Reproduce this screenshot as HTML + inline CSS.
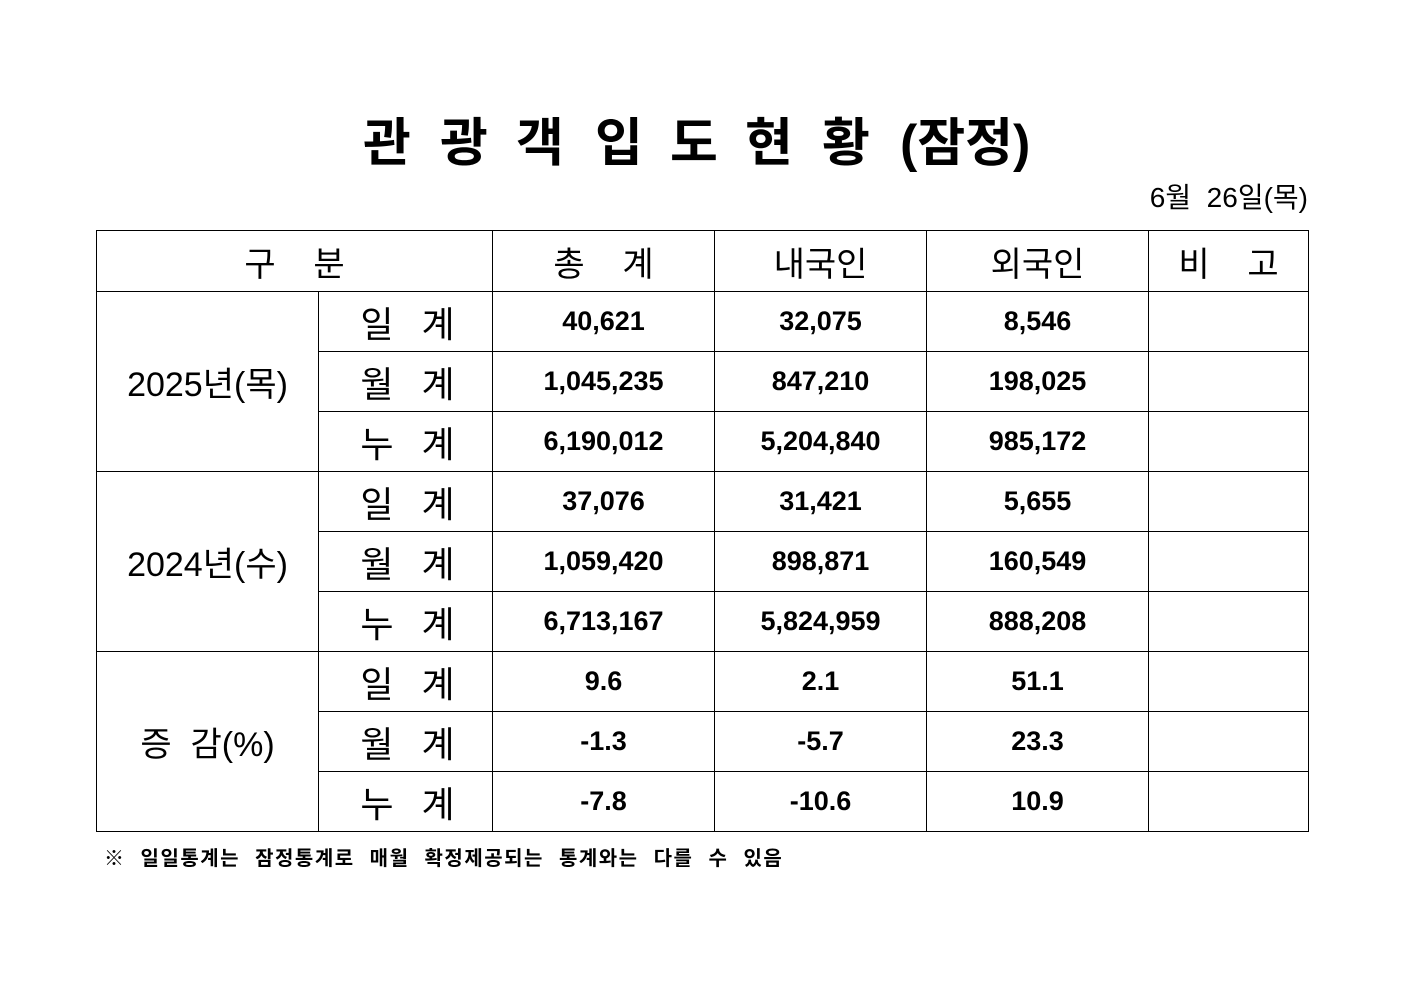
<!DOCTYPE html>
<html><head><meta charset="utf-8"><style>
body{margin:0;width:1403px;height:992px;background:#fff;position:relative;font-family:"Liberation Sans","Noto Sans CJK KR","NanumGothic",sans-serif;color:#000}
.t{position:absolute;top:112px;font-size:52px;font-weight:bold;line-height:64px}
.date{position:absolute;right:95px;top:176px;font-size:28px}
table{position:absolute;left:96px;top:230px;border-collapse:collapse;table-layout:fixed}
td{border:1px solid #000;height:59px;padding:0;text-align:center;vertical-align:middle}
.h{font-size:34px}
.s{font-size:36px;letter-spacing:6px;word-spacing:6px;padding-left:10px}
.n{font-size:27px;font-weight:bold}
.y{font-size:34px;letter-spacing:0px}
.f{position:absolute;left:104px;top:842px;font-size:20px;font-weight:bold;letter-spacing:1.5px;word-spacing:8px}
</style></head><body>
<div class="t" style="left:363px">관</div>
<div class="t" style="left:440px">광</div>
<div class="t" style="left:516px">객</div>
<div class="t" style="left:595px">입</div>
<div class="t" style="left:670px">도</div>
<div class="t" style="left:745px">현</div>
<div class="t" style="left:822px">황</div>
<div class="t" style="left:900px">(잠정)</div>
<div class="date">6월&nbsp;&nbsp;26일(목)</div>
<table>
<colgroup><col style="width:222px"><col style="width:174px"><col style="width:222px"><col style="width:212px"><col style="width:222px"><col style="width:160px"></colgroup>
<tr><td colspan="2" class="h" style="height:60px">구&nbsp;&nbsp;&nbsp;&nbsp;분</td><td class="h">총&nbsp;&nbsp;&nbsp;&nbsp;계</td><td class="h">내국인</td><td class="h">외국인</td><td class="h">비&nbsp;&nbsp;&nbsp;&nbsp;고</td></tr>
<tr><td rowspan="3" class="y">2025년(목)</td><td class="s">일 계</td><td class="n">40,621</td><td class="n">32,075</td><td class="n">8,546</td><td></td></tr>
<tr><td class="s">월 계</td><td class="n">1,045,235</td><td class="n">847,210</td><td class="n">198,025</td><td></td></tr>
<tr><td class="s">누 계</td><td class="n">6,190,012</td><td class="n">5,204,840</td><td class="n">985,172</td><td></td></tr>
<tr><td rowspan="3" class="y">2024년(수)</td><td class="s">일 계</td><td class="n">37,076</td><td class="n">31,421</td><td class="n">5,655</td><td></td></tr>
<tr><td class="s">월 계</td><td class="n">1,059,420</td><td class="n">898,871</td><td class="n">160,549</td><td></td></tr>
<tr><td class="s">누 계</td><td class="n">6,713,167</td><td class="n">5,824,959</td><td class="n">888,208</td><td></td></tr>
<tr><td rowspan="3" class="y">증&nbsp; 감(%)</td><td class="s">일 계</td><td class="n">9.6</td><td class="n">2.1</td><td class="n">51.1</td><td></td></tr>
<tr><td class="s">월 계</td><td class="n">-1.3</td><td class="n">-5.7</td><td class="n">23.3</td><td></td></tr>
<tr><td class="s">누 계</td><td class="n">-7.8</td><td class="n">-10.6</td><td class="n">10.9</td><td></td></tr>
</table>
<div class="f">※ 일일통계는 잠정통계로 매월 확정제공되는 통계와는 다를 수 있음</div>
</body></html>
